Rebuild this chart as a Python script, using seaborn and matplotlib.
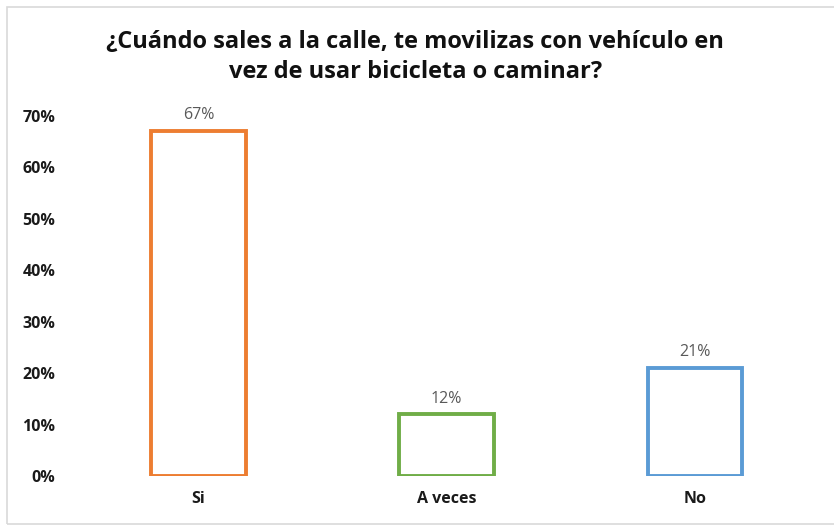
import matplotlib
matplotlib.use("Agg")
import matplotlib.pyplot as plt
import seaborn as sns
import pandas as pd
from matplotlib.patches import Rectangle
from matplotlib.ticker import PercentFormatter

categories = ["Si", "A veces", "No"]
values = [0.67, 0.12, 0.21]
colors = ["#ED7D31", "#70AD47", "#5B9BD5"]
title = "¿Cuándo sales a la calle, te movilizas con vehículo en\nvez de usar bicicleta o caminar?"

df = pd.DataFrame({"respuesta": categories, "pct": values})

sns.set_style("white")
plt.rcParams['font.family'] = ['Open Sans', 'DejaVu Sans']

fig = plt.figure(figsize=(8.34, 5.26), dpi=100)
ax = fig.add_axes([0.089, 0.095, 0.893, 0.685])

sns.barplot(data=df, x="respuesta", y="pct", hue="respuesta", palette=colors,
            order=categories, hue_order=categories, fill=False, linewidth=2.8,
            width=0.38, legend=False, ax=ax)

for i, v in enumerate(values):
    ax.text(i, v + 0.015, f"{v*100:.0f}%", ha="center", va="bottom",
            fontsize=11.5, color="#595959")

ax.set_ylim(0, 0.7)
ax.set_yticks([i / 10 for i in range(8)])
ax.yaxis.set_major_formatter(PercentFormatter(1.0, decimals=0))
ax.set_xlabel("")
ax.set_ylabel("")
ax.tick_params(axis="both", length=0, labelsize=11.5)
ax.tick_params(axis="y", pad=13.5)
ax.tick_params(axis="x", pad=11)
for lab in ax.get_xticklabels() + ax.get_yticklabels():
    lab.set_fontweight("bold")
    lab.set_color("#1a1a1a")
for s in ax.spines.values():
    s.set_visible(False)

fig.text(0.498, 0.892, title, ha="center", va="center", fontsize=17,
         fontweight="bold", color="#111111", linespacing=1.35)

fig.patches.append(Rectangle((0.008, 0.004), 1.2, 0.983, transform=fig.transFigure,
                             fill=False, edgecolor="#d9d9d9", linewidth=1.2))

fig.savefig("out.png", dpi=100)
